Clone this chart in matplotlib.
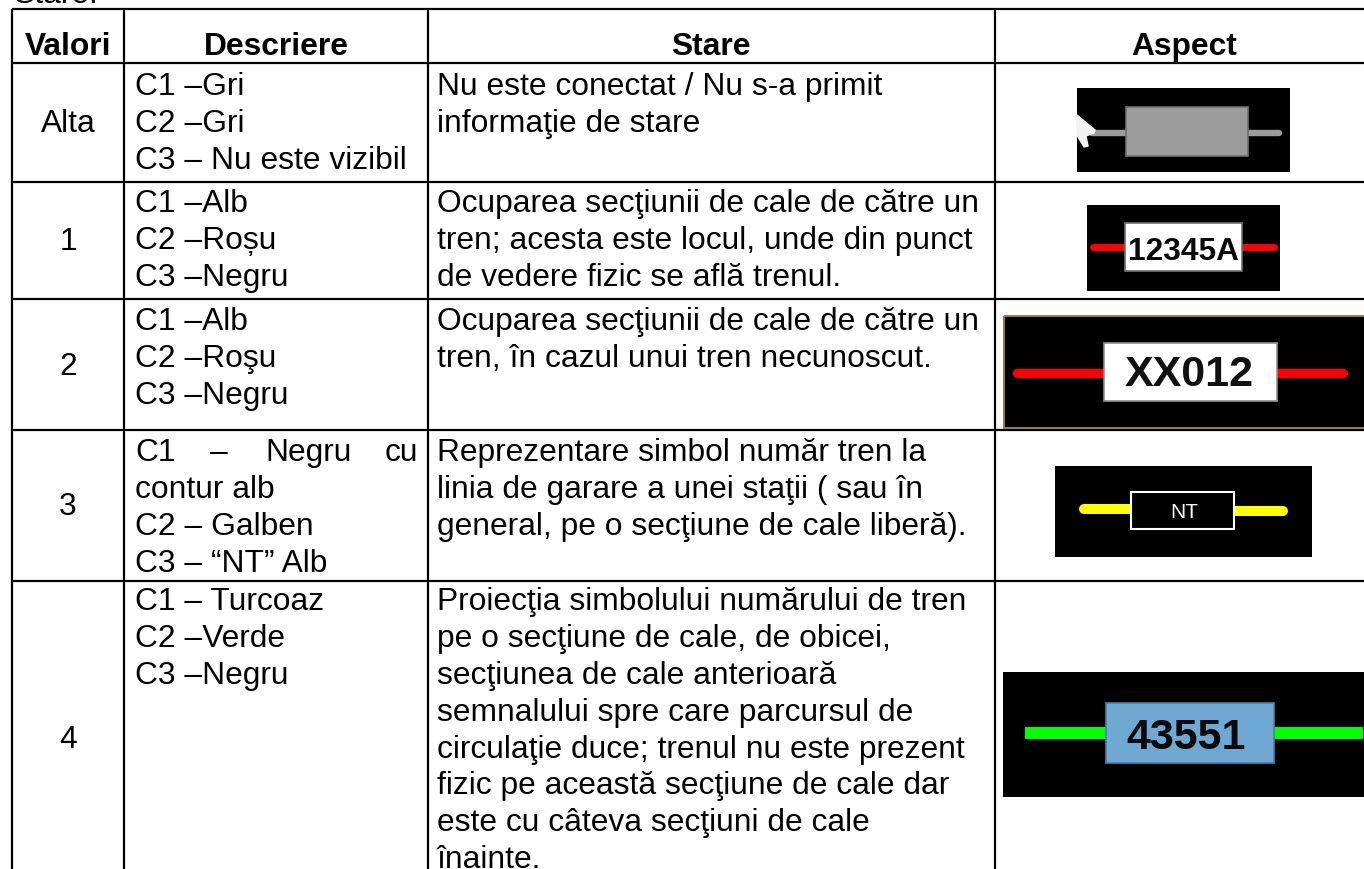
import matplotlib
matplotlib.use("Agg")
import matplotlib.pyplot as plt
from matplotlib.patches import Rectangle

plt.rcParams['font.family'] = ['Liberation Sans', 'DejaVu Sans']

headers = ["Valori", "Descriere", "Stare", "Aspect"]
valori = ["Alta", "1", "2", "3", "4"]
descriere = [
    ["C1 –Gri", "C2 –Gri", "C3 – Nu este vizibil"],
    ["C1 –Alb", "C2 –Roșu", "C3 –Negru"],
    ["C1 –Alb", "C2 –Roşu", "C3 –Negru"],
    ["contur alb", "C2 – Galben", "C3 – “NT” Alb"],
    ["C1 – Turcoaz", "C2 –Verde", "C3 –Negru"],
]
stare = [
    ["Nu este conectat / Nu s-a primit", "informaţie de stare"],
    ["Ocuparea secţiunii de cale de către un", "tren; acesta este locul, unde din punct", "de vedere fizic se află trenul."],
    ["Ocuparea secţiunii de cale de către un", "tren, în cazul unui tren necunoscut."],
    ["Reprezentare simbol număr tren la", "linia de garare a unei staţii ( sau în", "general, pe o secţiune de cale liberă)."],
    ["Proiecţia simbolului numărului de tren", "pe o secţiune de cale, de obicei,", "secţiunea de cale anterioară", "semnalului spre care parcursul de", "circulaţie duce; trenul nu este prezent", "fizic pe această secţiune de cale dar", "este cu câteva secţiuni de cale", "înainte."],
]
symbol_text = ["", "12345A", "XX012", "NT", "43551"]

W, H = 1364, 870
fig = plt.figure(figsize=(W/100, H/100), dpi=100)
ax = fig.add_axes([0, 0, 1, 1])
ax.set_xlim(0, W); ax.set_ylim(H, 0); ax.axis('off')

FS = 22.9
col_x = [12, 124, 428, 995]
row_y = [9.5, 63.5, 182.5, 299.5, 430.5, 581.5]
LH = 36.9
first_base = [95, 212, 330, 461, 610]
val_y = [124, 242, 367, 507, 740]

ax.text(14, 3, "Stare:", fontsize=FS, va='baseline')
for x in col_x:
    ax.plot([x, x], [row_y[0], H], color='k', lw=1.6, solid_capstyle='butt')
for y in row_y:
    ax.plot([col_x[0], W], [y, y], color='k', lw=1.6, solid_capstyle='butt')

for h, x in zip(headers, [68, 276, 711, 1184]):
    ax.text(x, 55, h, fontsize=FS, fontweight='bold', ha='center', va='baseline')

for i in range(5):
    ax.text(68, val_y[i], valori[i], fontsize=FS, ha='center', va='center')
    d0 = 1 if i == 3 else 0
    for j, s in enumerate(descriere[i]):
        ax.text(135, first_base[i] + (j+d0)*LH, s, fontsize=FS, va='baseline')
    for j, s in enumerate(stare[i]):
        ax.text(437, first_base[i] + j*LH, s, fontsize=FS, va='baseline')

# justified first line of the C1 description in row 3
for x, s in [(135, "C1"), (210, "–"), (265, "Negru"), (385, "cu")]:
    ax.text(x, first_base[3], s, fontsize=FS, va='baseline')

def symbol(bx0, bx1, by0, by1, lx0, lx1, ly, lcol, lw, rx0, rx1, ry0, ry1, fc, ec, txt, tcol, tfs, ty, tx=None, cap='round', bold=True, ly2=None, elw=1.2):
    ax.add_patch(Rectangle((bx0, by0), bx1-bx0, by1-by0, fc='k', ec='none', zorder=3))
    ax.plot([lx0, (rx0+rx1)/2], [ly, ly], color=lcol, lw=lw, zorder=4, solid_capstyle=cap)
    ax.plot([(rx0+rx1)/2, lx1], [ly if ly2 is None else ly2]*2, color=lcol, lw=lw, zorder=4, solid_capstyle=cap)
    ax.add_patch(Rectangle((rx0, ry0), rx1-rx0, ry1-ry0, fc=fc, ec=ec, lw=elw, zorder=5))
    if txt:
        ax.text((rx0+rx1)/2 if tx is None else tx, ty, txt, color=tcol, fontsize=tfs,
                fontweight='bold' if bold else 'normal', ha='center', va='center_baseline', zorder=6)

symbol(1077, 1290, 89, 173, 1092, 1279, 134, '#9c9c9c', 4.6, 1126, 1248, 108, 157, '#9c9c9c', '#707070', symbol_text[0], 'k', 10, 134)
ax.fill([1077, 1095, 1094, 1086, 1088, 1084, 1078, 1077], [116, 131, 134, 137, 147, 148, 138, 135], color='#f2f2f2', zorder=7)
symbol(1087, 1280, 206, 292, 1093, 1274, 248, '#ff0000', 5, 1125, 1242, 224, 272, 'white', '#707070', symbol_text[1], '#0a0a0a', 22.8, 248)
symbol(1003, 1364, 317, 429, 1017, 1343, 374, '#ff0000', 6.7, 1104, 1277, 344, 402, 'white', '#909090', symbol_text[2], '#111111', 31, 371, tx=1189)
ax.add_patch(Rectangle((1004, 317), 362, 112, fc='none', ec='#a07c45', lw=1.4, zorder=6))
symbol(1055, 1312, 467, 558, 1084, 1283, 510, '#ffff00', 7.2, 1131, 1234, 493, 530, 'k', 'white', symbol_text[3], 'white', 15, 510, tx=1184, bold=False, ly2=512, elw=1.5)
symbol(1003, 1364, 673, 798, 1025, 1363, 734, '#00ff00', 8.6, 1106, 1274, 704, 764, '#6fa8d3', '#4f7fa6', symbol_text[4], '#0a0a0a', 31, 734, tx=1186, cap='butt')

fig.savefig("out.png", dpi=100)
